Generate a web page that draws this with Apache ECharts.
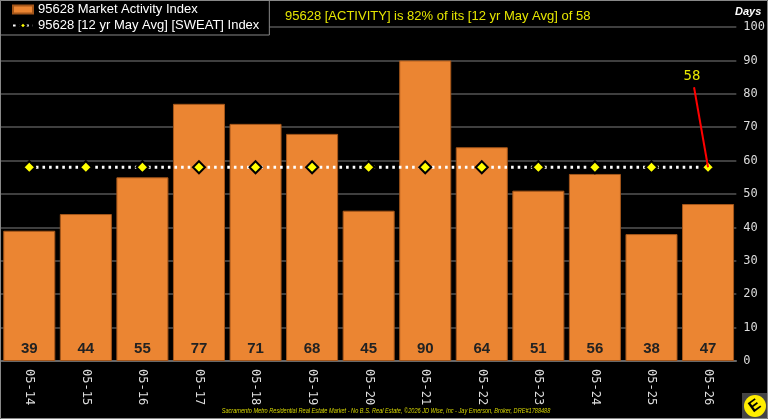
<!DOCTYPE html>
<html>
<head>
<meta charset="utf-8">
<script src="https://cdn.jsdelivr.net/npm/echarts@6/dist/echarts.min.js"></script>
<style>
  html, body { margin: 0; padding: 0; background: #000; }
  #chart { width: 768px; height: 419px; }
</style>
</head>
<body>
<div id="chart"></div>
<script>
const categories = ['05-14', '05-15', '05-16', '05-17', '05-18', '05-19', '05-20', '05-21', '05-22', '05-23', '05-24', '05-25', '05-26']
const activity = [39, 44, 55, 77, 71, 68, 45, 90, 64, 51, 56, 38, 47]
const mayAvg = [58, 58, 58, 58, 58, 58, 58, 58, 58, 58, 58, 58, 58]
const yTicks = [0, 10, 20, 30, 40, 50, 60, 70, 80, 90, 100]

const chart = echarts.init(document.getElementById('chart'))

chart.setOption({
  backgroundColor: '#000',
  animation: false,
  title: {
    text: '95628 [ACTIVITY] is 82% of its [12 yr May Avg] of 58',
    left: 280,
    top: 5,
    textStyle: {
      color: '#e6e600',
      fontFamily: 'Liberation Sans',
      fontSize: 13,
      fontWeight: 'normal'
    }
  },
  legend: {
    orient: 'vertical',
    left: 0,
    top: 0,
    padding: [3, 10, 3, 12],
    itemGap: 3,
    itemWidth: 20,
    itemHeight: 8,
    backgroundColor: '#000',
    borderColor: '#888',
    borderWidth: 1,
    textStyle: {
      color: '#fff',
      fontFamily: 'Liberation Sans',
      fontSize: 13
    },
    data: [
      { name: '95628 Market Activity Index', icon: 'rect' },
      { name: '95628 [12 yr May Avg] [SWEAT] Index' }
    ]
  },
  grid: {
    left: 1,
    right: 27,
    top: 27,
    bottom: 58
  },
  xAxis: {
    type: 'category',
    data: categories,
    axisTick: { show: false },
    axisLine: { lineStyle: { color: '#777', width: 1.5 } },
    axisLabel: {
      rotate: -90,
      margin: 8,
      color: '#ddd',
      fontFamily: 'DejaVu Sans Mono',
      fontSize: 12
    }
  },
  yAxis: {
    type: 'value',
    position: 'right',
    min: 0,
    max: 100,
    interval: 10,
    name: 'Days',
    nameGap: 10,
    nameTextStyle: {
      color: '#fff',
      fontFamily: 'Liberation Sans',
      fontStyle: 'italic',
      fontWeight: 'bold',
      fontSize: 11,
      align: 'right',
      padding: [0, -25, 0, 0]
    },
    axisLine: { show: false },
    axisTick: { show: false },
    axisLabel: {
      margin: 7,
      color: '#ddd',
      fontFamily: 'DejaVu Sans Mono',
      fontSize: 12,
      formatter: v => (yTicks.includes(v) ? String(v) : '')
    },
    splitLine: { lineStyle: { color: '#555', width: 1.5 } }
  },
  series: [
    {
      name: '95628 Market Activity Index',
      type: 'bar',
      data: activity,
      barCategoryGap: '8%',
      itemStyle: {
        color: '#eb8532',
        borderColor: '#a4561a',
        borderWidth: 1
      },
      label: {
        show: true,
        position: 'insideBottom',
        distance: 5,
        color: '#222',
        fontFamily: 'Liberation Sans',
        fontWeight: 'bold',
        fontSize: 15
      },
      z: 2
    },
    {
      name: '95628 [12 yr May Avg] [SWEAT] Index',
      type: 'line',
      data: mayAvg,
      symbol: 'diamond',
      symbolSize: 12,
      itemStyle: {
        color: '#ffff00',
        borderColor: '#000',
        borderWidth: 2
      },
      lineStyle: {
        color: '#fff',
        width: 3,
        type: [2.6, 4]
      },
      z: 3
    }
  ]
})

// callout for the last average point, placed from the axis scales
const lastIdx = categories.length - 1
const pt = chart.convertToPixel({ seriesIndex: 1 }, [lastIdx, mayAvg[lastIdx]])
chart.setOption({
  graphic: [
    {
      type: 'line',
      shape: { x1: pt[0] - 14, y1: pt[1] - 80, x2: pt[0], y2: pt[1] },
      style: { stroke: '#ff0000', lineWidth: 2 },
      z: 10
    },
    {
      type: 'text',
      x: pt[0] - 16,
      y: pt[1] - 84,
      style: {
        text: String(mayAvg[lastIdx]),
        fill: '#e6e600',
        font: '14px "DejaVu Sans Mono"',
        align: 'center',
        verticalAlign: 'bottom'
      },
      z: 10
    },
    {
      type: 'rect',
      shape: { x: 0.5, y: 0.5, width: 767, height: 418 },
      style: { fill: 'none', stroke: '#888', lineWidth: 1 },
      silent: true,
      z: 20
    },
    {
      type: 'text',
      x: 386,
      y: 411,
      scaleX: 0.8,
      style: {
        text: 'Sacramento Metro Residential Real Estate Market - No B.S. Real Estate, \u00a92026 JD Wise, Inc - Jay Emerson, Broker, DRE#1788488',
        fill: '#d8d800',
        font: 'italic 7px "Liberation Sans"',
        align: 'center',
        verticalAlign: 'middle'
      },
      z: 10
    },
    {
      type: 'group',
      x: 742,
      y: 393,
      children: [
        { type: 'rect', shape: { x: 0, y: 0, width: 26, height: 26 }, style: { fill: '#444' } },
        { type: 'circle', shape: { cx: 13, cy: 13, r: 11 }, style: { fill: '#ffee00' } },
        {
          type: 'text',
          x: 13,
          y: 13,
          rotation: Math.PI / 5,
          style: { text: 'E', fill: '#000', font: 'bold 16px "Liberation Sans"', align: 'center', verticalAlign: 'middle' }
        }
      ],
      z: 21
    }
  ]
})
</script>
</body>
</html>
